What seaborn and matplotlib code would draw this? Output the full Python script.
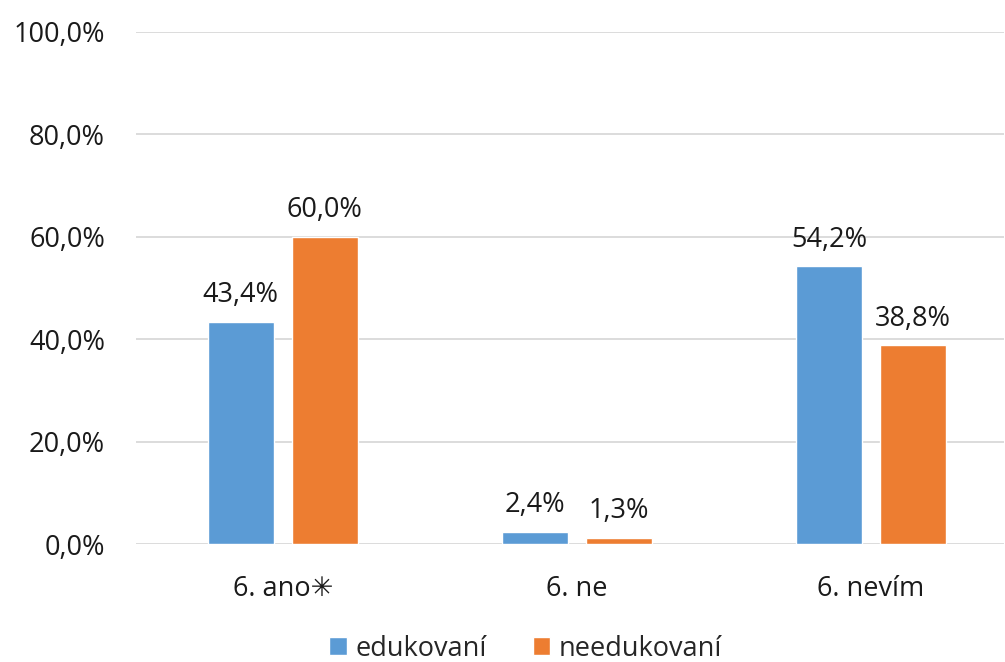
import pandas as pd
import matplotlib.pyplot as plt
import seaborn as sns
from matplotlib.patches import Patch

categories = ["6. ano\u2733", "6. ne", "6. nevím"]
groups = ["edukovaní", "needukovaní"]
edukovani = [43.4, 2.4, 54.2]
needukovani = [60.0, 1.3, 38.8]
colors = ["#5B9BD5", "#ED7D31"]

df = pd.DataFrame({
    "category": categories * 2,
    "group": [groups[0]] * 3 + [groups[1]] * 3,
    "value": edukovani + needukovani,
})

sns.set_style("white")
plt.rcParams["font.family"] = ["Open Sans", "DejaVu Sans"]

fig = plt.figure(figsize=(10.05, 6.62), dpi=100)
ax = fig.add_axes([0.135, 0.178, 0.864, 0.774])

sns.barplot(data=df, x="category", y="value", hue="group", palette=colors,
            width=0.571, gap=0.21, ax=ax, legend=False, saturation=1)

for cont in ax.containers:
    ax.bar_label(cont, labels=[f"{v:.1f}%".replace(".", ",") for v in cont.datavalues],
                 padding=9, fontsize=19.5, color="#1a1a1a")

ax.set_ylim(0, 100)
ax.set_xlim(-0.5, -0.5 + 868 / 294)
ax.set_yticks(range(0, 101, 20))
ax.set_yticklabels([f"{t:.1f}%".replace(".", ",") for t in range(0, 101, 20)])
ax.yaxis.grid(True, color="#d9d9d9", linewidth=1.3)
ax.set_axisbelow(True)
for s in ax.spines.values():
    s.set_visible(False)
ax.tick_params(axis="both", length=0, labelsize=19.5, colors="#1a1a1a")
ax.tick_params(axis="x", pad=22)
ax.tick_params(axis="y", pad=22)
ax.set_xlabel("")
ax.set_ylabel("")

handles = [Patch(facecolor=c, label=g) for c, g in zip(colors, groups)]
fig.legend(handles=handles, loc="center", bbox_to_anchor=(0.523, 0.02), ncol=2,
           frameon=False, fontsize=19.5, handlelength=0.65, handleheight=0.65,
           handletextpad=0.3, columnspacing=1.7, borderpad=0)

fig.savefig("out.png", dpi=100)
